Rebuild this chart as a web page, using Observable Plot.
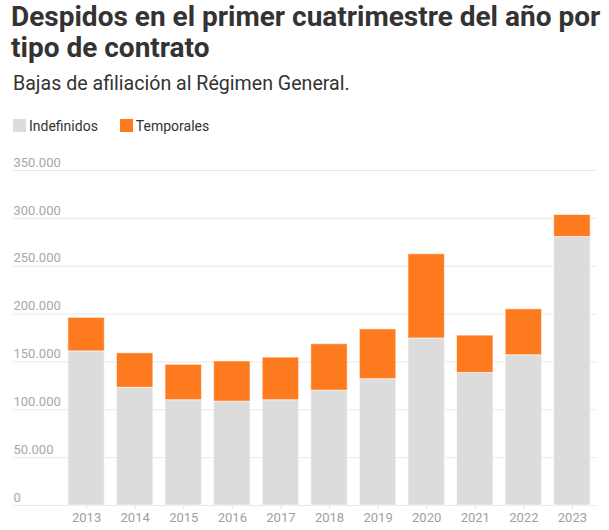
<!DOCTYPE html>
<html>
<head>
<meta charset="utf-8">
<script src="https://cdn.jsdelivr.net/npm/d3@7"></script>
<script src="https://cdn.jsdelivr.net/npm/@observablehq/plot@0.6"></script>
<style>
  html, body { margin: 0; padding: 0; background: #fff; }
  body { width: 609px; font-family: Roboto, "Noto Sans", sans-serif; color: #333; }
  #title { margin: 1px 0 0 11px; font-size: 28px; line-height: 31px; font-weight: 700; color: #333; white-space: nowrap; }
  #subtitle { margin: 9px 0 0 13px; font-size: 19.6px; line-height: 24px; color: #333; }
  #legend { margin: 23px 0 0 13px; height: 13px; display: flex; align-items: center; font-size: 14px; color: #333; }
  .item { display: flex; align-items: center; margin-right: 22px; }
  .sw { width: 13px; height: 13px; margin-right: 3px; }
  #chart { margin-top: 12px; }
</style>
</head>
<body>
<div id="title">Despidos en el primer cuatrimestre del año por<br>tipo de contrato</div>
<div id="subtitle">Bajas de afiliación al Régimen General.</div>
<div id="legend"></div>
<div id="chart"></div>
<script>
const years = ["2013","2014","2015","2016","2017","2018","2019","2020","2021","2022","2023"];
const indefinidos = [161000, 123000, 110000, 108500, 110000, 120000, 132000, 174500, 138500, 157000, 280500];
const temporales  = [35000, 36000, 37000, 42000, 44500, 48500, 52000, 88000, 39000, 48000, 23000];
const seriesNames = ["Indefinidos", "Temporales"];
const seriesColors = ["#dcdcdc", "#fd7a1f"];
const yTicks = [0, 50000, 100000, 150000, 200000, 250000, 300000, 350000];

const data = [];
years.forEach((y, i) => {
  data.push({year: y, serie: seriesNames[0], value: indefinidos[i]});
  data.push({year: y, serie: seriesNames[1], value: temporales[i]});
});

const es = d3.formatLocale({decimal: ",", thousands: ".", grouping: [3], currency: ["", " €"]});
const fmt = es.format(",");

const legend = document.getElementById("legend");
seriesNames.forEach((n, i) => {
  const it = document.createElement("div");
  it.className = "item";
  it.innerHTML = `<span class="sw" style="background:${seriesColors[i]}"></span><span>${n}</span>`;
  legend.appendChild(it);
});

const chart = Plot.plot({
  width: 609,
  height: 385,
  marginTop: 26,
  marginBottom: 24,
  marginLeft: 13,
  marginRight: 13,
  style: {fontFamily: "Roboto, sans-serif", fontSize: "13px"},
  x: {type: "band", domain: years, range: [63, 595], paddingInner: 0.25, paddingOuter: 0.1, round: false, label: null},
  y: {domain: [0, 350000], label: null, axis: null},
  color: {domain: seriesNames, range: seriesColors},
  marks: [
    Plot.ruleY(yTicks, {stroke: "#e8e8e8", strokeWidth: 1}),
    Plot.text(yTicks, {y: d => d, text: d => fmt(d), frameAnchor: "left", textAnchor: "start", lineAnchor: "middle", dy: -8, fill: "#a8a8a8", fontSize: 13}),
    Plot.barY(data, {x: "year", y: "value", fill: "serie", order: seriesNames, stroke: "white", strokeOpacity: 0.6, strokeWidth: 1}),
    Plot.axisX({tickSize: 4, stroke: "#e0e0e0", color: "#a0a0a0", fontSize: 13, tickPadding: 3, label: null})
  ]
});
document.getElementById("chart").appendChild(chart);
</script>
</body>
</html>
